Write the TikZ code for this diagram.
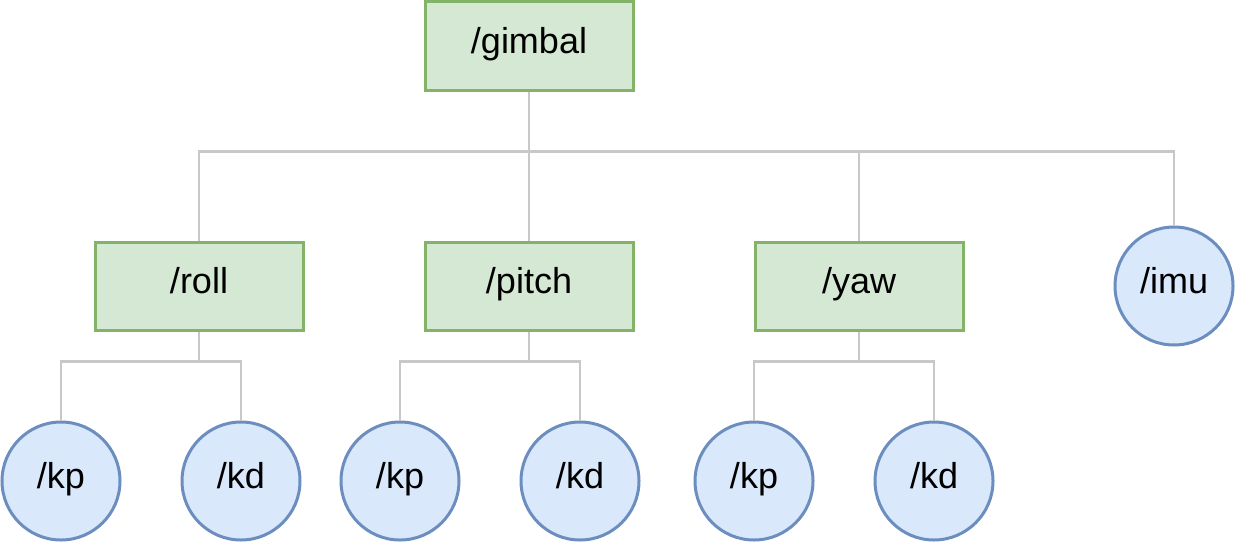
\documentclass[tikz,border=0pt]{standalone}
\usepackage{fontspec}
\setmainfont{Liberation Sans}
\definecolor{gfill}{HTML}{D5E8D4}
\definecolor{gdraw}{HTML}{82B366}
\definecolor{bfill}{HTML}{DAE8FC}
\definecolor{bdraw}{HTML}{6C8EBF}
\definecolor{wire}{HTML}{C8C8C8}
\begin{document}
\begin{tikzpicture}[x=1pt,y=-1pt,
  every node/.style={font=\fontsize{36}{43}\selectfont,text height=25pt,text depth=10pt},
  rectnode/.style={draw=gdraw,fill=gfill,line width=3pt,minimum width=208pt,minimum height=88pt,inner sep=0pt},
  circnode/.style={circle,draw=bdraw,fill=bfill,line width=3pt,minimum size=118pt,inner sep=0pt},
  wirestyle/.style={draw=wire,line width=2.5pt}]
\useasboundingbox (0,0) rectangle (1236,543);
\node[rectnode] (gimbal) at (529,46) {/gimbal};
\node[rectnode] (roll) at (199,286) {/roll};
\node[rectnode] (pitch) at (529,286) {/pitch};
\node[rectnode] (yaw) at (859,286) {/yaw};
\node[circnode] (imu) at (1174,286) {/imu};
\node[circnode] (rkp) at (61,481) {/kp};
\node[circnode] (rkd) at (241,481) {/kd};
\node[circnode] (pkp) at (400,481) {/kp};
\node[circnode] (pkd) at (580,481) {/kd};
\node[circnode] (ykp) at (754,481) {/kp};
\node[circnode] (ykd) at (934,481) {/kd};
\draw[wirestyle] (gimbal.south) -- ++(0,60) -| (roll.north);
\draw[wirestyle] (gimbal.south) -- (pitch.north);
\draw[wirestyle] (gimbal.south) -- ++(0,60) -| (yaw.north);
\draw[wirestyle] (gimbal.south) -- ++(0,60) -| (imu.north);
\draw[wirestyle] (roll.south) -- ++(0,30) -| (rkp.north);
\draw[wirestyle] (roll.south) -- ++(0,30) -| (rkd.north);
\draw[wirestyle] (pitch.south) -- ++(0,30) -| (pkp.north);
\draw[wirestyle] (pitch.south) -- ++(0,30) -| (pkd.north);
\draw[wirestyle] (yaw.south) -- ++(0,30) -| (ykp.north);
\draw[wirestyle] (yaw.south) -- ++(0,30) -| (ykd.north);
\end{tikzpicture}
\end{document}
